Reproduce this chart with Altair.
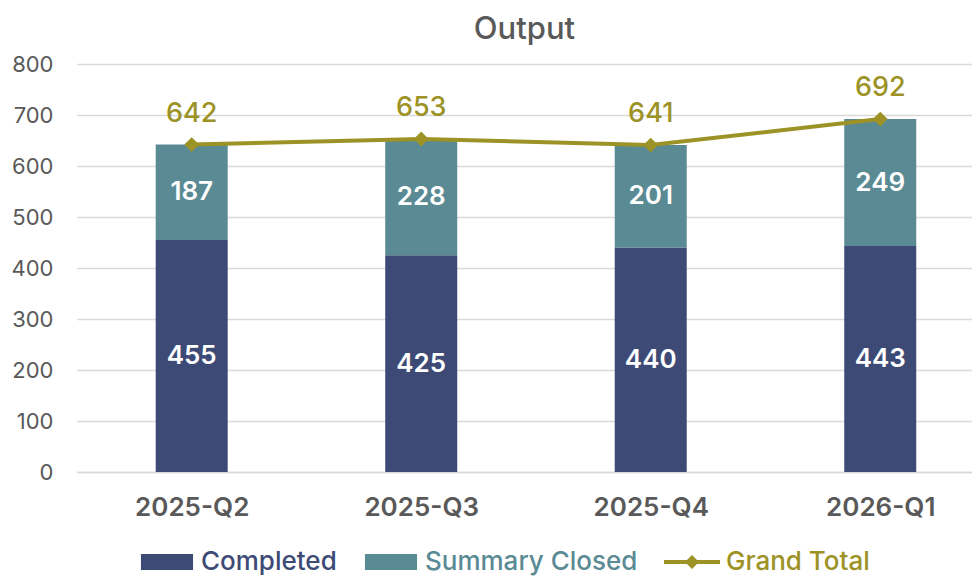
import json
import altair as alt
import pandas as pd

quarters = ["2025-Q2", "2025-Q3", "2025-Q4", "2026-Q1"]
completed = [455, 425, 440, 443]
summary_closed = [187, 228, 201, 249]
grand_total = [642, 653, 641, 692]
series_names = ["Completed", "Summary Closed", "Grand Total"]
series_colors = ["#3C4A75", "#5A8A94", "#9C9226"]
y_ticks = [0, 100, 200, 300, 400, 500, 600, 700, 800]

rows = []
for i, q in enumerate(quarters):
    rows.append(dict(quarter=q, idx=i, series="Completed", value=completed[i], order=0))
    rows.append(dict(quarter=q, idx=i, series="Summary Closed", value=summary_closed[i], order=1))
bars_df = pd.DataFrame(rows)
total_df = pd.DataFrame(dict(quarter=quarters, idx=list(range(len(quarters))),
                             series=["Grand Total"] * len(quarters), value=grand_total))

FONT = "Inter"
GREY = "#595959"

label_expr = json.dumps(quarters) + "[datum.value]"
x_enc = alt.X(
    "idx:Q",
    scale=alt.Scale(domain=[-0.478, 3.378], nice=False, zero=False),
    axis=alt.Axis(values=list(range(len(quarters))), labelExpr=label_expr, title=None,
                  grid=False, ticks=False, domain=True, domainColor="#d9d9d9",
                  domainWidth=1.5, labelFontSize=26, labelFontWeight=600, labelFont=FONT,
                  labelColor=GREY, labelPadding=22),
)
y_scale = alt.Scale(domain=[0, 800], nice=False)
y_axis = alt.Axis(values=y_ticks, title=None, grid=True, gridColor="#d9d9d9", gridWidth=1.5,
                  domain=False, ticks=False, labelFontSize=22, labelFont=FONT,
                  labelColor=GREY, labelPadding=24)

color_expr = ("datum.value === 'Completed' ? '%s' : datum.value === 'Summary Closed' ? '%s' : '%s'"
              % tuple(series_colors))
rect_path = "M-0.93,-0.29H0.93V0.29H-0.93Z"
line_path = "M-1,-0.07H-0.18L0,-0.25L0.18,-0.07H1V0.07H0.18L0,0.25L-0.18,0.07H-1Z"
shape_expr = "datum.value === 'Grand Total' ? '%s' : '%s'" % (line_path, rect_path)

color_enc = alt.Color(
    "series:N",
    scale=alt.Scale(domain=series_names, range=series_colors),
    legend=alt.Legend(
        title=None, orient="none", direction="horizontal", legendX=62, legendY=470,
        labelFont=FONT, labelFontSize=26, labelFontWeight=500, labelLimit=400,
        labelColor={"expr": color_expr}, symbolType={"expr": shape_expr},
        symbolSize=3136, symbolStrokeWidth=0, symbolOpacity=1, columnPadding=26,
        labelOffset=6,
    ),
)

bars = alt.Chart(bars_df).mark_bar(size=72).encode(
    x=x_enc,
    y=alt.Y("value:Q", stack="zero", scale=y_scale, axis=y_axis),
    color=color_enc,
    order=alt.Order("order:Q", sort="ascending"),
)

bar_text = alt.Chart(bars_df).transform_stack(
    stack="value", groupby=["quarter"], sort=[alt.SortField("order", "ascending")], as_=["v0", "v1"]
).transform_calculate(mid="(datum.v0 + datum.v1) / 2").mark_text(
    color="white", fontSize=26, fontWeight=600, font=FONT, baseline="middle"
).encode(x=x_enc, y=alt.Y("mid:Q", scale=y_scale, axis=y_axis), text="value:Q")

line = alt.Chart(total_df).mark_line(
    strokeWidth=4,
    point=alt.OverlayMarkDef(shape="diamond", size=220, filled=True, color=series_colors[2]),
).encode(x=x_enc, y=alt.Y("value:Q", scale=y_scale, axis=y_axis), color=color_enc)

line_text = alt.Chart(total_df).mark_text(
    color=series_colors[2], fontSize=27, fontWeight=500, font=FONT, dy=-31, baseline="middle"
).encode(x=x_enc, y=alt.Y("value:Q", scale=y_scale, axis=y_axis), text="value:Q")

chart = alt.layer(bars, bar_text, line, line_text).properties(
    width=895,
    height=408,
    title=alt.TitleParams("Output", font=FONT, fontSize=31, fontWeight=500, color=GREY,
                          anchor="middle", offset=7),
    autosize=alt.AutoSizeParams(type="none"),
    padding={"left": 69, "top": 56, "right": 0, "bottom": 105},
).configure_view(stroke=None)

chart.save("out.html", embed_options={"renderer": "svg", "actions": False})
